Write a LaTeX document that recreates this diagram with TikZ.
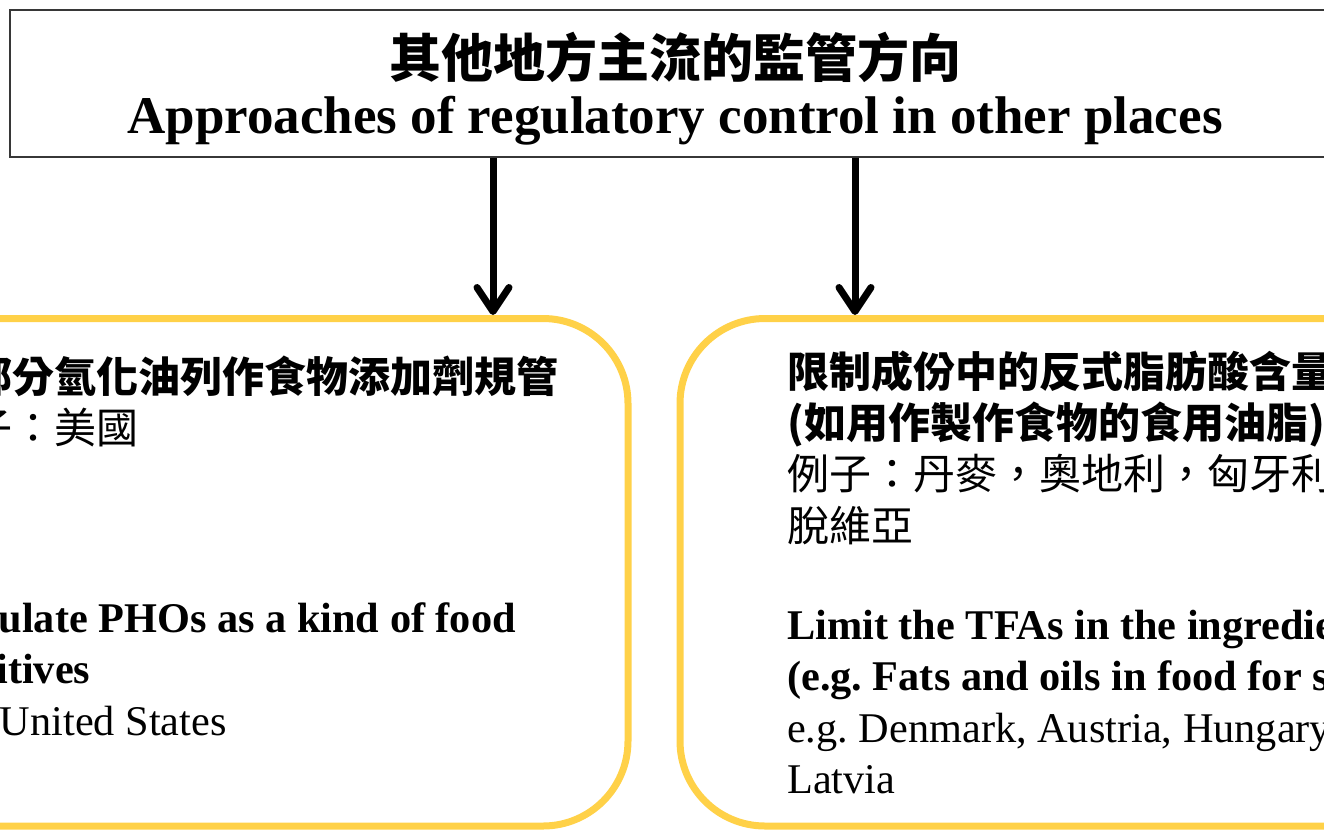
\documentclass[tikz,border=0pt]{standalone}
\usepackage{fontspec}
\setmainfont{Liberation Serif}
\newfontfamily\cjk{Noto Sans CJK TC}
\usetikzlibrary{arrows.meta}
\definecolor{boxyellow}{RGB}{255,209,72}
\definecolor{framegray}{RGB}{55,55,55}
\frenchspacing

\begin{document}
\begin{tikzpicture}[x=1pt,y=-1pt,
    heading/.style={draw=framegray, line width=2pt, inner sep=0pt},
    panel/.style={draw=boxyellow, line width=7pt, rounded corners=85pt, inner sep=0pt},
    cnhead/.style={anchor=base, inner sep=0pt, font=\cjk\bfseries\fontsize{52}{60}\selectfont},
    enhead/.style={anchor=base, inner sep=0pt, font=\bfseries\fontsize{53}{60}\selectfont},
    cnbold/.style={anchor=base west, inner sep=0pt, font=\cjk\bfseries\fontsize{42}{51}\selectfont},
    cnplain/.style={anchor=base west, inner sep=0pt, font=\cjk\fontsize{42}{51}\selectfont},
    enbold/.style={anchor=base west, inner sep=0pt, font=\bfseries\fontsize{42.3}{51}\selectfont},
    enplain/.style={anchor=base west, inner sep=0pt, font=\fontsize{42.3}{51}\selectfont},
    arr/.style={line width=7pt, -{Straight Barb[length=24pt,width=32pt,round]}}]
  \useasboundingbox (0,0) rectangle (1324,831);
  \clip (0,0) rectangle (1324,831);

  % heading box
  \node[heading, minimum width=1330pt, minimum height=147.5pt] (title) at (675,83.25) {};
  \node[cnhead] (titlecn) at (675,77) {其他地方主流的監管方向};
  \node[enhead] (titleen) at (675,133) {Approaches of regulatory control in other places};

  % two approaches
  \node[panel, minimum width=818pt, minimum height=507.5pt] (lbox) at (219,572.25) {};
  \node[panel, minimum width=818pt, minimum height=507.5pt] (rbox) at (1089,572.25) {};

  \coordinate (aL) at (493,0);
  \coordinate (aR) at (855,0);
  \draw[arr] (aL |- title.south) -- (aL |- lbox.north);
  \draw[arr] (aR |- title.south) -- (aR |- rbox.north);

  % left box text
  \node[cnbold] (lcn1) at (-72,392) {將部分氫化油列作食物添加劑規管};
  \node[cnplain] (lcn2) at (-72,443) {例子：美國};
  \node[enbold] (len1) at (-72,632) {Regulate PHOs as a kind of food};
  \node[enbold] (len2) at (-72,683) {additives};
  \node[enplain] (len3) at (-72,735) {e.g. United States};

  % right box text
  \node[cnbold] (rcn1) at (787,387) {限制成份中的反式脂肪酸含量};
  \node[cnbold] (rcn2) at (787,438) {(如用作製作食物的食用油脂)};
  \node[cnplain] (rcn3) at (787,489) {例子：丹麥，奧地利，匈牙利，拉};
  \node[cnplain] (rcn4) at (787,541) {脫維亞};
  \node[enbold] (ren1) at (787,639) {Limit the TFAs in the ingredients};
  \node[enbold] (ren2) at (787,690) {(e.g. Fats and oils in food for sale)};
  \node[enplain] (ren3) at (787,742) {e.g. Denmark, Austria, Hungary,};
  \node[enplain] (ren4) at (787,793) {Latvia};
\end{tikzpicture}
\end{document}
